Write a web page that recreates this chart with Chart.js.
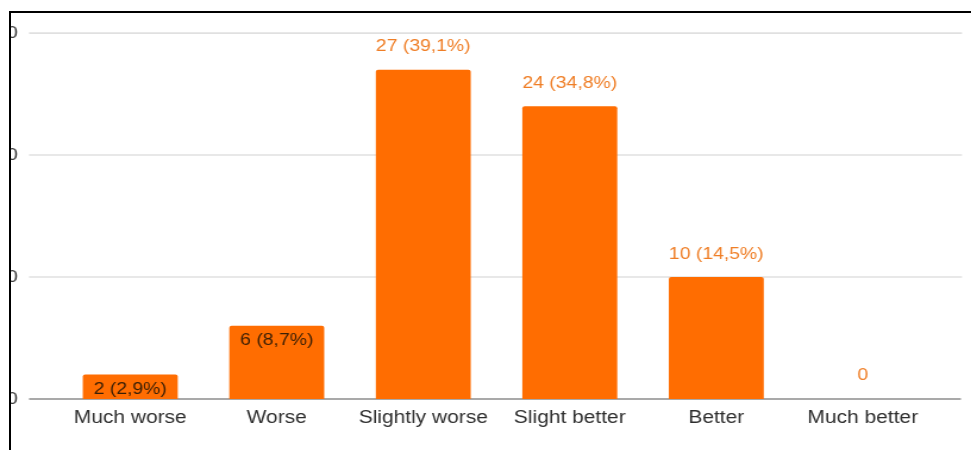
<!DOCTYPE html>
<html>
<head>
<meta charset="utf-8">
<script src="https://cdn.jsdelivr.net/npm/chart.js@4"></script>
<style>
  html, body { margin: 0; padding: 0; background: #fff; overflow: hidden; }
  body { width: 971px; height: 450px; position: relative; }
  #chart { position: absolute; left: 0; top: 0; transform-origin: 0 0; transform: scaleX(1.19); }
  .mask { position: absolute; left: 0; top: 0; width: 9px; height: 450px; background: #fff; }
  .frame { position: absolute; left: 9px; top: 11px; width: 970px; height: 450px;
           border-top: 2px solid #000; border-left: 2px solid #000; }
</style>
</head>
<body>
<canvas id="chart" width="816" height="450"></canvas>
<div class="mask"></div>
<div class="frame"></div>
<script>
    // Answers to "compared with before, how is it now?"
    const categories = ['Much worse', 'Worse', 'Slightly worse', 'Slight better', 'Better', 'Much better'];
    const counts = [2, 6, 27, 24, 10, 0];
    const shares = ['2,9%', '8,7%', '39,1%', '34,8%', '14,5%', ''];
    const yTicks = [0, 10, 20, 30];

    const BAR_COLOR = '#ff6d01';
    const LABEL_OUT = '#ef7e26';
    const LABEL_IN = '#3a1f06';
    const FONT = '"Liberation Sans", Arial, sans-serif';

    // gridlines in this chart run past the plot area, so draw them by hand
    const gridPlugin = {
        id: 'wideGrid',
        beforeDatasetsDraw(chart) {
            const ctx = chart.ctx;
            const y = chart.scales.y;
            ctx.save();
            yTicks.forEach(v => {
                const py = y.getPixelForValue(v);
                ctx.beginPath();
                ctx.lineWidth = 1.6;
                ctx.strokeStyle = v === 0 ? '#8c8c8c' : '#e0e0e0';
                ctx.moveTo(24.4, py);
                ctx.lineTo(v === 0 ? 807.5 : 808.4, py);
                ctx.stroke();
            });
            ctx.restore();
        }
    };

    const valueLabels = {
        id: 'valueLabels',
        afterDatasetsDraw(chart) {
            const ctx = chart.ctx;
            const meta = chart.getDatasetMeta(0);
            ctx.save();
            ctx.font = '16.3px ' + FONT;
            ctx.textAlign = 'center';
            ctx.textBaseline = 'middle';
            meta.data.forEach((bar, i) => {
                const text = counts[i] === 0 ? '0' : counts[i] + ' (' + shares[i] + ')';
                if (counts[i] > 0 && counts[i] < 8) {
                    ctx.fillStyle = LABEL_IN;
                    ctx.fillText(text, bar.x, bar.y + 15);
                } else {
                    ctx.fillStyle = LABEL_OUT;
                    ctx.fillText(text, bar.x, bar.y - 23);
                }
            });
            ctx.restore();
        }
    };

    new Chart(document.getElementById('chart'), {
        type: 'bar',
        data: {
            labels: categories,
            datasets: [{
                data: counts,
                backgroundColor: BAR_COLOR,
                borderWidth: 0,
                borderRadius: 2,
                borderSkipped: 'bottom',
                barPercentage: 0.648,
                categoryPercentage: 1
            }]
        },
        options: {
            responsive: false,
            animation: false,
            layout: { padding: { top: 0, left: 0, right: 29.4, bottom: 0 } },
            scales: {
                x: {
                    grid: { display: false, drawTicks: false },
                    border: { display: false },
                    ticks: { color: '#2e2e2e', font: { family: FONT, size: 17.6 }, padding: 9, maxRotation: 0 },
                    afterFit(scale) { scale.height = 51; }
                },
                y: {
                    min: 0,
                    max: 30,
                    afterBuildTicks(scale) { scale.ticks = yTicks.map(v => ({ value: v })); },
                    grid: { display: false, drawTicks: false },
                    border: { display: false },
                    // tiny lineHeight keeps the label height out of the top padding
                    ticks: { color: '#3a3a3a', font: { family: FONT, size: 17, lineHeight: 0.01 }, padding: 33 },
                    afterFit(scale) { scale.width = 47.9; }
                }
            },
            plugins: {
                legend: { display: false },
                tooltip: { enabled: false }
            }
        },
        plugins: [gridPlugin, valueLabels]
    });
</script>
</body>
</html>
